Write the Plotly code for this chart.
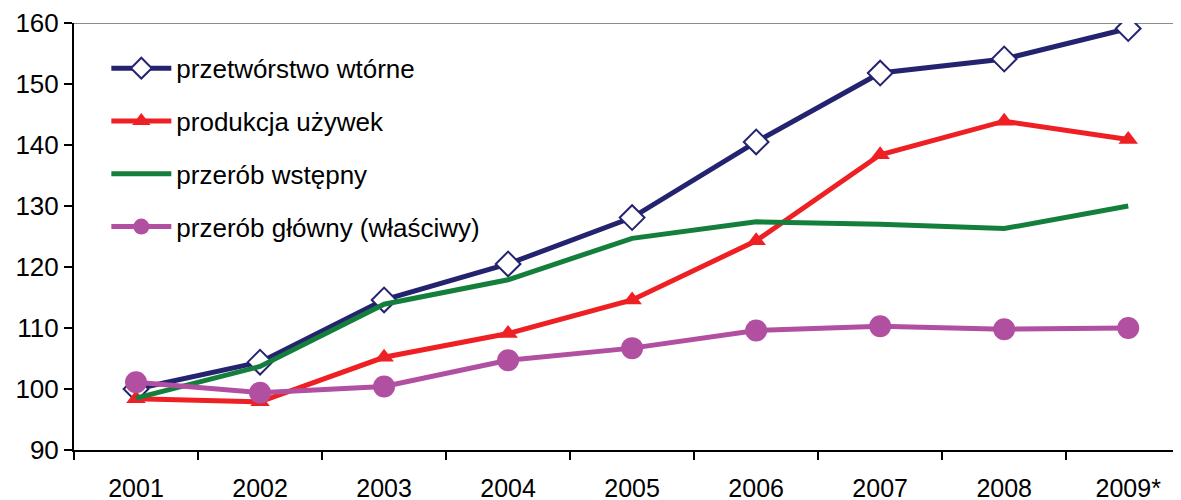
import plotly.graph_objects as go

years = ["2001", "2002", "2003", "2004", "2005", "2006", "2007", "2008", "2009*"]
wtorne = [100.0, 104.4, 114.6, 120.5, 128.1, 140.5, 151.8, 154.1, 159.1]
uzywki = [98.4, 97.9, 105.2, 109.1, 114.6, 124.3, 138.4, 143.9, 140.9]
wstepny = [98.5, 103.7, 113.9, 117.9, 124.7, 127.4, 127.0, 126.3, 130.0]
glowny = [101.1, 99.4, 100.4, 104.7, 106.7, 109.6, 110.3, 109.8, 110.0]

names = ["przetwórstwo wtórne", "produkcja używek", "przerób wstępny", "przerób główny (właściwy)"]

fig = go.Figure()
fig.add_trace(go.Scatter(x=years, y=wtorne, name=names[0], mode="lines+markers", legendgroup="a",
                         line=dict(color="#24236F", width=5),
                         marker=dict(symbol="diamond", size=19, color="white",
                                     line=dict(color="#24236F", width=2))))
fig.add_trace(go.Scatter(x=years, y=uzywki, name=names[1], mode="lines+markers", legendgroup="b",
                         line=dict(color="#EE2024", width=5),
                         marker=dict(symbol="triangle-up", size=17, color="#EE2024")))
fig.add_trace(go.Scatter(x=years, y=wstepny, name=names[2], mode="lines", legendgroup="c",
                         line=dict(color="#147F3C", width=5)))
fig.add_trace(go.Scatter(x=years, y=glowny, name=names[3], mode="lines+markers", legendgroup="d",
                         line=dict(color="#B150A0", width=5),
                         marker=dict(symbol="circle", size=22, color="#B150A0")))

fig.add_shape(type="line", xref="paper", yref="y", x0=0, x1=1, y0=160, y1=160,
              line=dict(color="#8C8C8C", width=2), layer="below")

fig.update_layout(
    width=1181, height=500,
    margin=dict(l=66, r=0, t=15, b=58),
    paper_bgcolor="white", plot_bgcolor="white",
    font=dict(family="Liberation Sans, Arial, sans-serif", size=26, color="black"),
    showlegend=True,
    legend=dict(x=0.029, y=0.949, xanchor="left", yanchor="top", bgcolor="rgba(0,0,0,0)",
                tracegroupgap=16, font=dict(size=26), itemwidth=60),
    xaxis=dict(type="category", range=[-0.5, 8.49], showgrid=False, showline=True,
               linecolor="black", linewidth=2, ticks="outside", ticklen=8, tickwidth=2,
               tickcolor="black", tickson="boundaries", zeroline=False,
               ticklabelstandoff=15, tickfont=dict(size=25)),
    yaxis=dict(range=[90, 160], dtick=10, showgrid=False, showline=True,
               linecolor="black", linewidth=2, ticks="outside", ticklen=8, tickwidth=2,
               tickcolor="black", zeroline=False, tickfont=dict(size=26)),
)

fig.write_html("out.html")
